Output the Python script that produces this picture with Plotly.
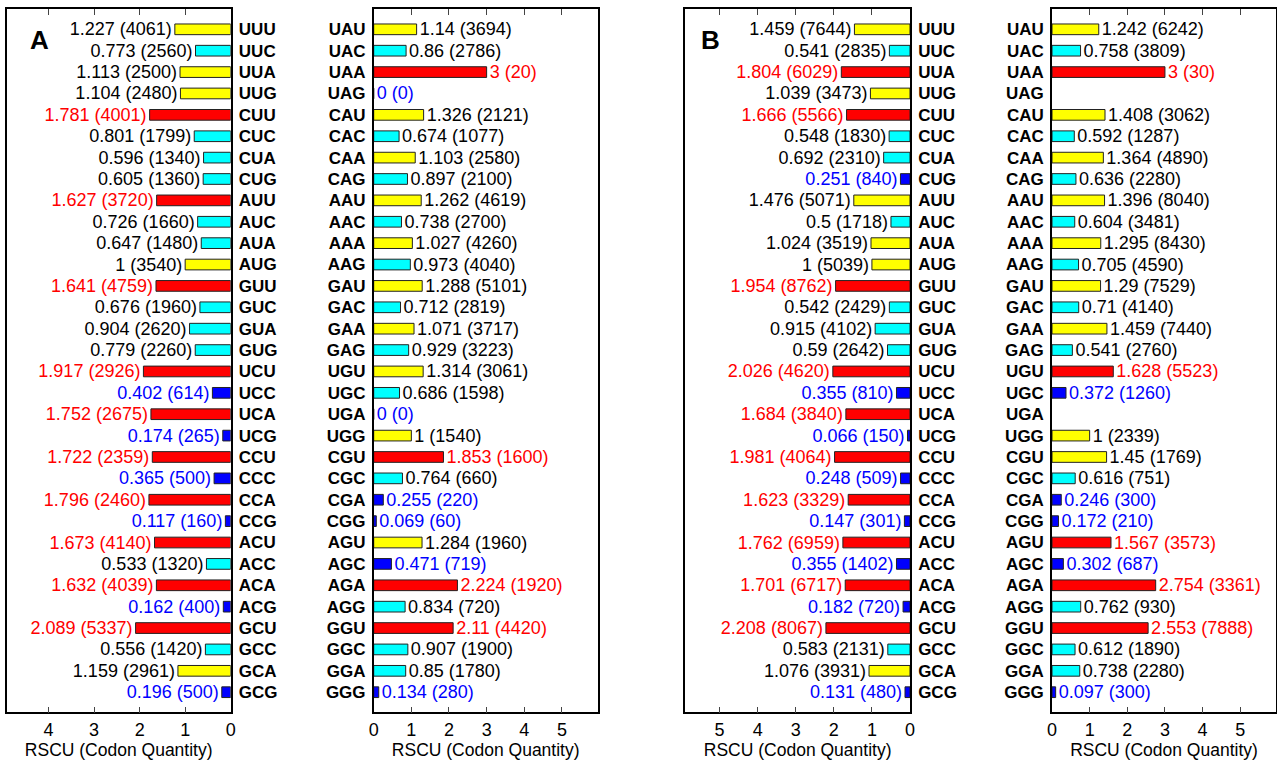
import plotly.graph_objects as go

# ---------------- data ----------------
codons_left = ["UUU", "UUC", "UUA", "UUG", "CUU", "CUC", "CUA", "CUG",
               "AUU", "AUC", "AUA", "AUG", "GUU", "GUC", "GUA", "GUG",
               "UCU", "UCC", "UCA", "UCG", "CCU", "CCC", "CCA", "CCG",
               "ACU", "ACC", "ACA", "ACG", "GCU", "GCC", "GCA", "GCG"]
codons_right = ["UAU", "UAC", "UAA", "UAG", "CAU", "CAC", "CAA", "CAG",
                "AAU", "AAC", "AAA", "AAG", "GAU", "GAC", "GAA", "GAG",
                "UGU", "UGC", "UGA", "UGG", "CGU", "CGC", "CGA", "CGG",
                "AGU", "AGC", "AGA", "AGG", "GGU", "GGC", "GGA", "GGG"]

a_left_rscu = [1.227, 0.773, 1.113, 1.104, 1.781, 0.801, 0.596, 0.605,
               1.627, 0.726, 0.647, 1, 1.641, 0.676, 0.904, 0.779,
               1.917, 0.402, 1.752, 0.174, 1.722, 0.365, 1.796, 0.117,
               1.673, 0.533, 1.632, 0.162, 2.089, 0.556, 1.159, 0.196]
a_left_qty = [4061, 2560, 2500, 2480, 4001, 1799, 1340, 1360,
              3720, 1660, 1480, 3540, 4759, 1960, 2620, 2260,
              2926, 614, 2675, 265, 2359, 500, 2460, 160,
              4140, 1320, 4039, 400, 5337, 1420, 2961, 500]

a_right_rscu = [1.14, 0.86, 3, 0, 1.326, 0.674, 1.103, 0.897,
                1.262, 0.738, 1.027, 0.973, 1.288, 0.712, 1.071, 0.929,
                1.314, 0.686, 0, 1, 1.853, 0.764, 0.255, 0.069,
                1.284, 0.471, 2.224, 0.834, 2.11, 0.907, 0.85, 0.134]
a_right_qty = [3694, 2786, 20, 0, 2121, 1077, 2580, 2100,
               4619, 2700, 4260, 4040, 5101, 2819, 3717, 3223,
               3061, 1598, 0, 1540, 1600, 660, 220, 60,
               1960, 719, 1920, 720, 4420, 1900, 1780, 280]

b_left_rscu = [1.459, 0.541, 1.804, 1.039, 1.666, 0.548, 0.692, 0.251,
               1.476, 0.5, 1.024, 1, 1.954, 0.542, 0.915, 0.59,
               2.026, 0.355, 1.684, 0.066, 1.981, 0.248, 1.623, 0.147,
               1.762, 0.355, 1.701, 0.182, 2.208, 0.583, 1.076, 0.131]
b_left_qty = [7644, 2835, 6029, 3473, 5566, 1830, 2310, 840,
              5071, 1718, 3519, 5039, 8762, 2429, 4102, 2642,
              4620, 810, 3840, 150, 4064, 509, 3329, 301,
              6959, 1402, 6717, 720, 8067, 2131, 3931, 480]

b_right_rscu = [1.242, 0.758, 3, None, 1.408, 0.592, 1.364, 0.636,
                1.396, 0.604, 1.295, 0.705, 1.29, 0.71, 1.459, 0.541,
                1.628, 0.372, None, 1, 1.45, 0.616, 0.246, 0.172,
                1.567, 0.302, 2.754, 0.762, 2.553, 0.612, 0.738, 0.097]
b_right_qty = [6242, 3809, 30, None, 3062, 1287, 4890, 2280,
               8040, 3481, 8430, 4590, 7529, 4140, 7440, 2760,
               5523, 1260, None, 2339, 1769, 751, 300, 210,
               3573, 687, 3361, 930, 7888, 1890, 2280, 300]

x_ticks_a_left = [0, 1, 2, 3, 4]
x_ticks_other = [0, 1, 2, 3, 4, 5]
axis_title = "RSCU (Codon Quantity)"
panel_labels = ["A", "B"]

# ---------------- styling helpers ----------------
FONT = "Liberation Sans, Arial, Helvetica, sans-serif"
W, H = 1277, 764


def bar_color(v):
    if v is None:
        return "rgba(0,0,0,0)"
    if v >= 1.5:
        return "#FF0000"
    if v >= 1:
        return "#FFFF00"
    if v >= 0.5:
        return "#00FFFF"
    return "#0000FF"


def text_color(v):
    if v is None:
        return "black"
    if v >= 1.5:
        return "#FF0000"
    if v < 0.5:
        return "#0000FF"
    return "black"


def label(v, q):
    if v is None:
        return ""
    return f"{v:g} ({q})"


panels = [
    # (codons, rscu, qty, is_left, x-range max, ticks, domain px)
    (codons_left, a_left_rscu, a_left_qty, True, 4.92, x_ticks_a_left, (6.7, 230.7)),
    (codons_right, a_right_rscu, a_right_qty, False, 5.95, x_ticks_other, (373.7, 597.7)),
    (codons_left, b_left_rscu, b_left_qty, True, 5.90, x_ticks_other, (685.3, 910.0)),
    (codons_right, b_right_rscu, b_right_qty, False, 5.95, x_ticks_other, (1052.0, 1276.0)),
]

top_px, bottom_px = 9.0, 712.3
ydom = [1 - bottom_px / H, 1 - top_px / H]
yrange = [31.94, -0.95]

fig = go.Figure()
layout = dict(
    width=W, height=H,
    margin=dict(l=0, r=0, t=0, b=0, autoexpand=False),
    paper_bgcolor="white", plot_bgcolor="white",
    showlegend=False,
    font=dict(family=FONT, size=16, color="black"),
    bargap=0.5,
)

for i, (cods, vals, qtys, is_left, xmax, ticks, (x0, x1)) in enumerate(panels):
    n = i + 1
    xa = "x" if n == 1 else f"x{n}"
    ya = "y" if n == 1 else f"y{n}"
    fig.add_trace(go.Bar(
        orientation="h",
        x=vals, y=cods,
        xaxis=xa, yaxis=ya,
        width=0.5,
        marker=dict(color=[bar_color(v) for v in vals],
                    line=dict(color="#222222", width=1)),
        text=[label(v, q) for v, q in zip(vals, qtys)],
        textposition="outside",
        textfont=dict(family=FONT, size=18, color=[text_color(v) for v in vals]),
        cliponaxis=False,
        constraintext="none",
        hoverinfo="skip",
    ))
    xr = [xmax, 0] if is_left else [0, xmax]
    layout["xaxis" if n == 1 else f"xaxis{n}"] = dict(
        domain=[x0 / W, x1 / W], anchor=ya, range=xr,
        tickvals=ticks, ticks="inside", ticklen=6, tickwidth=1,
        mirror="ticks", showline=True, linewidth=1.5, linecolor="black",
        showgrid=False, zeroline=False, automargin=False,
        tickfont=dict(family=FONT, size=18),
        title=dict(text=axis_title, font=dict(family=FONT, size=17.5), standoff=3),
    )
    layout["yaxis" if n == 1 else f"yaxis{n}"] = dict(
        domain=ydom, anchor=xa, type="category",
        categoryorder="array", categoryarray=cods,
        range=yrange,
        side="right" if is_left else "left",
        ticks="", showline=True, mirror=True, linewidth=1.5, linecolor="black",
        showgrid=False, zeroline=False, automargin=False,
        ticklabelstandoff=3,
        tickfont=dict(family=FONT, size=17, weight="bold"),
    )
    # tick marks on the opposite side of the category labels
    layout[f"yaxis{n + 4}"] = dict(
        overlaying=ya, anchor=xa,
        side="left" if is_left else "right",
        range=yrange, tickvals=list(range(len(cods))),
        ticks="inside", ticklen=6, tickwidth=1, tickcolor="black",
        showticklabels=False, showline=False, showgrid=False, zeroline=False,
        automargin=False,
    )

fig.update_layout(**layout)

# panel letters
for lab, (px, py) in zip(panel_labels, [(39, 40.5), (710, 40.5)]):
    fig.add_annotation(x=px / W, y=1 - py / H, xref="paper", yref="paper",
                       xanchor="center", yanchor="middle",
                       text=f"<b>{lab}</b>", showarrow=False,
                       font=dict(family=FONT, size=26, color="black"))

fig.write_html(
    "out.html",
    config={"displayModeBar": False},
    post_script="document.body.style.margin='0px';document.body.style.overflow='hidden';",
)
